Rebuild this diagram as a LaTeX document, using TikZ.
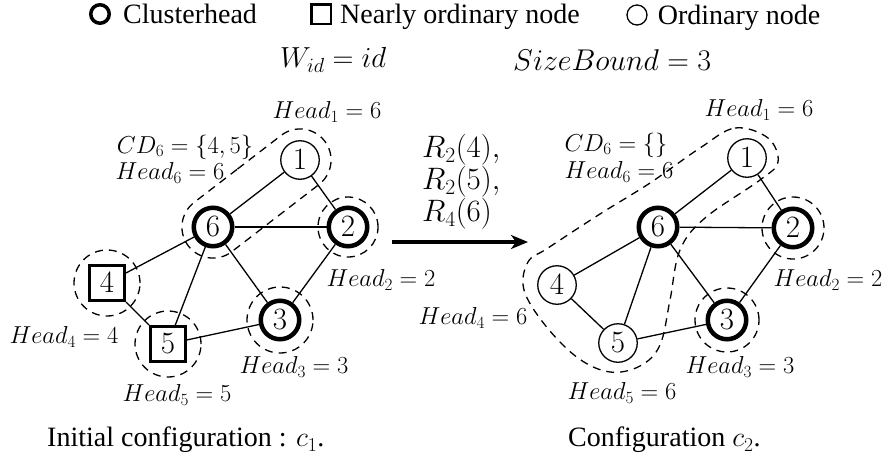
\RequirePackage{fix-cm}
\documentclass[tikz,border=0pt]{standalone}
\usepackage[no-math]{fontspec}
\setmainfont{Liberation Serif}
\usetikzlibrary{arrows.meta,positioning,shapes.misc,calc}

\begin{document}
\begin{tikzpicture}[
    x=1pt, y=-1pt,
    every node/.style={font=\fontsize{28}{30}\selectfont, inner sep=0pt},
    chead/.style={draw, circle, line width=4.5pt, minimum size=38.5pt, font=\fontsize{31}{33}\selectfont},
    nearly/.style={draw, rectangle, line width=3pt, minimum size=35pt, font=\fontsize{31}{33}\selectfont},
    ordin/.style={draw, circle, line width=1.3pt, minimum size=38.5pt, font=\fontsize{31}{33}\selectfont},
    edge/.style={line width=1.3pt},
    cluster/.style={draw, line width=1.3pt, dash pattern=on 8pt off 6pt},
    head_lbl/.style={font=\fontsize{24.5}{27}\selectfont},
    leg_text/.style={text height=19pt, text depth=0pt},
    arrow/.style={-{Stealth[length=17pt, width=14pt, inset=5pt]}, line width=4pt}
]
    \useasboundingbox (0,0) rectangle (885,463);

    % Legend
    \node[chead, minimum size=18.5pt, line width=3.5pt] (leg_ch) at (100,14) {};
    \node[leg_text, right=12pt of leg_ch] (leg_ch_txt) {Clusterhead};
    \node[nearly, minimum size=19.5pt, line width=2.5pt] (leg_near) at (321,14) {};
    \node[leg_text, right=8pt of leg_near] (leg_near_txt) {Nearly ordinary node};
    \node[ordin, minimum size=20pt] (leg_ord) at (637,15) {};
    \node[leg_text, right=10pt of leg_ord] (leg_ord_txt) {Ordinary node};

    % Parameters
    \node[anchor=west, font=\fontsize{29}{31}\selectfont] (weight) at (280,60) {$W_{id} = id$};
    \node[anchor=west, font=\fontsize{30}{32}\selectfont] (bound) at (513,60) {$SizeBound = 3$};

    % Configuration c1
    \node[ordin] (l_n1) at (300,160) {$1$};
    \node[chead] (l_n6) at (213,227) {$6$};
    \node[chead] (l_n2) at (348,227) {$2$};
    \node[nearly] (l_n4) at (107,283) {$4$};
    \node[nearly] (l_n5) at (168,344) {$5$};
    \node[chead] (l_n3) at (280,320) {$3$};

    \draw[edge] (l_n1) -- (l_n6);
    \draw[edge] (l_n1) -- (l_n2);
    \draw[edge] (l_n6) -- (l_n2);
    \draw[edge] (l_n6) -- (l_n4);
    \draw[edge] (l_n6) -- (l_n5);
    \draw[edge] (l_n6) -- (l_n3);
    \draw[edge] (l_n2) -- (l_n3);
    \draw[edge] (l_n4) -- (l_n5);
    \draw[edge] (l_n5) -- (l_n3);

    \node[cluster, rounded rectangle, minimum width=172pt, minimum height=62pt, rotate=37.6]
        (l_k61) at ($(l_n6)!0.5!(l_n1)$) {};
    \node[cluster, circle, minimum size=60pt] (l_k2) at (l_n2) {};
    \node[cluster, circle, minimum size=66pt] (l_k3) at (l_n3) {};
    \node[cluster, circle, minimum size=66pt] (l_k4) at (l_n4) {};
    \node[cluster, circle, minimum size=66pt] (l_k5) at (l_n5) {};

    \node[head_lbl] (l_head1) at (327,112) {$Head_1 = 6$};
    \node[head_lbl] (l_cd6) at (185,147) {$CD_6 = \{4,5\}$};
    \node[head_lbl] (l_head6) at (170,173) {$Head_6 = 6$};
    \node[head_lbl] (l_head2) at (381,280) {$Head_2 = 2$};
    \node[head_lbl] (l_head3) at (294,367) {$Head_3 = 3$};
    \node[head_lbl] (l_head4) at (64,337) {$Head_4 = 4$};
    \node[head_lbl] (l_head5) at (177,395) {$Head_5 = 5$};

    % Rules
    \node[anchor=west, align=left, font=\fontsize{31}{30}\selectfont] (rules) at (422,182)
        {$R_2(4),$\\$R_2(5),$\\$R_4(6)$};
    \coordinate (arr_start) at (392,242);
    \coordinate (arr_end) at (528,242);
    \draw[arrow] (arr_start) -- (arr_end);

    % Configuration c2
    \node[ordin] (r_n1) at (747,158) {$1$};
    \node[chead] (r_n6) at (658,227) {$6$};
    \node[chead] (r_n2) at (793,228) {$2$};
    \node[ordin] (r_n4) at (557,285) {$4$};
    \node[ordin] (r_n5) at (618,343) {$5$};
    \node[chead] (r_n3) at (727,320) {$3$};

    \draw[edge] (r_n1) -- (r_n6);
    \draw[edge] (r_n1) -- (r_n2);
    \draw[edge] (r_n6) -- (r_n2);
    \draw[edge] (r_n6) -- (r_n4);
    \draw[edge] (r_n6) -- (r_n5);
    \draw[edge] (r_n6) -- (r_n3);
    \draw[edge] (r_n2) -- (r_n3);
    \draw[edge] (r_n4) -- (r_n5);
    \draw[edge] (r_n5) -- (r_n3);

    \draw[cluster] plot[smooth cycle, tension=0.6] coordinates {
        (700,148) (735,128) (768,138) (778,162) (760,180) (705,218) (680,250)
        (670,300) (660,345) (640,366) (610,372) (578,358) (545,325) (524,290)
        (528,262) (548,248) (600,214) (650,183)};
    \node[cluster, circle, minimum size=62pt] (r_k2) at (r_n2) {};
    \node[cluster, circle, minimum size=64pt] (r_k3) at (r_n3) {};

    \node[head_lbl] (r_head1) at (759,110) {$Head_1 = 6$};
    \node[head_lbl] (r_cd6) at (616,145) {$CD_6 = \{\}$};
    \node[head_lbl] (r_head6) at (619,172) {$Head_6 = 6$};
    \node[head_lbl] (r_head2) at (828,280) {$Head_2 = 2$};
    \node[head_lbl] (r_head4) at (473,318) {$Head_4 = 6$};
    \node[head_lbl] (r_head3) at (740,367) {$Head_3 = 3$};
    \node[head_lbl] (r_head5) at (622,393) {$Head_5 = 6$};

    % Captions
    \node[anchor=west] (cap_c1) at (47,440) {Initial configuration : $c_1$.};
    \node[anchor=west] (cap_c2) at (568,440) {Configuration $c_2$.};

\end{tikzpicture}
\end{document}
